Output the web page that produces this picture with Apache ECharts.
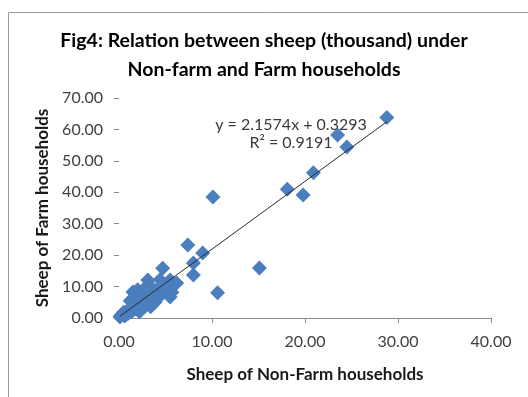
<!DOCTYPE html>
<html>
<head>
<meta charset="utf-8">
<style>
  html, body { margin: 0; padding: 0; background: #fff; }
  #chart { width: 528px; height: 397px; }
</style>
<script src="https://cdn.jsdelivr.net/npm/echarts@6/dist/echarts.min.js"></script>
</head>
<body>
<div id="chart"></div>
<script>
// Sheep (thousand) per district: non-farm households (x) vs farm households (y)
const nonFarmSheep = [
  0.1, 0.3, 0.5, 0.8, 1.0, 1.2, 1.5, 1.7, 2.0, 2.0, 2.2, 2.4, 2.5, 2.8, 3.0,
  3.1, 3.4, 3.4, 3.8, 3.9, 4.2, 4.4, 4.4, 4.7, 5.5, 5.5, 5.7, 6.2, 1.5, 2.6,
  0.2, 0.6, 1.0, 1.3, 1.8, 2.2, 2.7, 3.2, 3.6, 4.0, 4.8, 5.0, 1.2, 1.9, 2.9,
  7.4, 9.0, 8.0, 8.0, 10.6, 10.1, 15.1, 18.1, 19.8, 20.9, 23.5, 24.5, 28.8
];
const farmSheep = [
  0.3, 1.0, 1.8, 1.2, 2.5, 3.2, 2.4, 4.8, 4.0, 9.0, 6.5, 3.0, 7.3, 5.2, 8.4,
  12.1, 3.6, 10.0, 6.0, 5.1, 6.4, 9.9, 12.2, 15.8, 12.1, 6.7, 8.2, 11.1, 8.3, 4.2,
  0.8, 0.6, 1.5, 2.0, 3.0, 2.0, 3.4, 4.8, 7.5, 8.5, 9.0, 10.5, 5.5, 7.2, 9.9,
  23.2, 20.7, 17.5, 13.7, 8.0, 38.5, 15.9, 41.0, 39.1, 46.2, 58.2, 54.4, 63.8
];

// Linear trend reported for the series
const trendSlope = 2.1574;
const trendIntercept = 0.3293;
const trendR2 = 0.9191;

const xTicks = { min: 0, max: 40, interval: 10 };
const yTicks = { min: 0, max: 70, interval: 10 };

const points = nonFarmSheep.map((x, i) => [x, farmSheep[i]]);
const xLo = Math.min(...nonFarmSheep);
const xHi = Math.max(...nonFarmSheep);
const trendLine = [
  [xLo, trendSlope * xLo + trendIntercept],
  [xHi, trendSlope * xHi + trendIntercept]
];

const chart = echarts.init(document.getElementById('chart'), null, { renderer: 'canvas' });
const fontFam = 'Lato, "Open Sans", sans-serif';

chart.setOption({
  animation: false,
  backgroundColor: '#ffffff',
  title: {
    text: 'Fig4: Relation between sheep (thousand) under\nNon-farm and Farm households',
    left: 'center',
    top: 21,
    textStyle: {
      fontFamily: fontFam,
      fontSize: 19.5,
      fontWeight: 'bold',
      color: '#000',
      lineHeight: 29
    }
  },
  graphic: [
    {
      type: 'rect',
      shape: { x: 8.5, y: 12.5, width: 600, height: 500 },
      style: { fill: 'none', stroke: '#9a9a9a', lineWidth: 1 },
      silent: true,
      z: -1
    },
    {
      type: 'text',
      x: 291,
      y: 116,
      style: {
        text: 'y = ' + trendSlope.toFixed(4) + 'x + ' + trendIntercept.toFixed(4) +
              '\nR² = ' + trendR2.toFixed(4),
        font: '16px ' + fontFam,
        fill: '#3a3a3a',
        align: 'center',
        verticalAlign: 'top',
        lineHeight: 18
      }
    }
  ],
  grid: { left: 119, right: 37, top: 98, bottom: 79 },
  xAxis: {
    type: 'value',
    min: xTicks.min, max: xTicks.max, interval: xTicks.interval,
    name: 'Sheep of Non-Farm households',
    nameLocation: 'middle',
    nameGap: 48,
    nameTextStyle: { fontFamily: fontFam, fontSize: 17, fontWeight: 'bold', color: '#1a1a1a' },
    axisLine: { show: true, lineStyle: { color: '#8a8a8a', width: 1 } },
    axisTick: { show: true, length: 5, lineStyle: { color: '#8a8a8a' } },
    axisLabel: {
      margin: 16,
      fontFamily: fontFam, fontSize: 16, color: '#404040',
      formatter: v => v.toFixed(2)
    },
    splitLine: { show: false }
  },
  yAxis: {
    type: 'value',
    min: yTicks.min, max: yTicks.max, interval: yTicks.interval,
    name: 'Sheep of Farm households',
    nameLocation: 'middle',
    nameGap: 64,
    nameTextStyle: { fontFamily: fontFam, fontSize: 17, fontWeight: 'bold', color: '#1a1a1a' },
    axisLine: { show: false },
    axisTick: { show: true, length: 5, lineStyle: { color: '#8a8a8a' } },
    axisLabel: {
      margin: 16,
      fontFamily: fontFam, fontSize: 16, color: '#404040',
      formatter: v => v.toFixed(2)
    },
    splitLine: { show: false }
  },
  series: [
    {
      type: 'scatter',
      data: points,
      symbol: 'diamond',
      symbolSize: 15,
      itemStyle: { color: '#4a7ebd', opacity: 1 },
      z: 2
    },
    {
      type: 'line',
      data: trendLine,
      symbol: 'none',
      lineStyle: { color: '#2a2a2a', width: 1 },
      z: 3
    }
  ]
});
</script>
</body>
</html>
